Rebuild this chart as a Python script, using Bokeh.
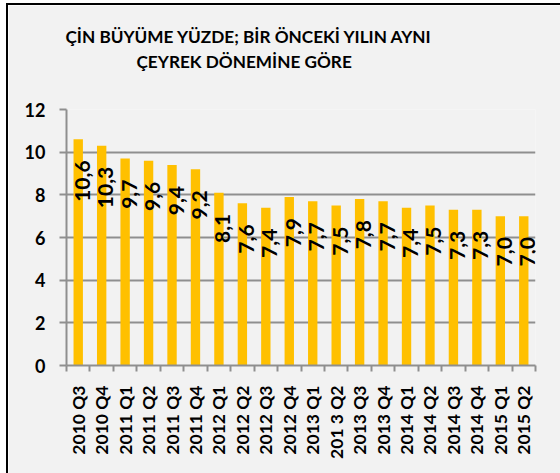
import math
from bokeh.plotting import figure
from bokeh.models import Range1d, FixedTicker, Title, ColumnDataSource
from bokeh.core.properties import value
from bokeh.embed import file_html
from bokeh.resources import INLINE

quarters = ["2010 Q3", "2010 Q4", "2011 Q1", "2011 Q2", "2011 Q3", "2011 Q4",
            "2012 Q1", "2012 Q2", "2012 Q3", "2012 Q4", "2013 Q1", "201 3 Q2",
            "2013 Q3", "2013 Q4", "2014 Q1", "2014 Q2", "2014 Q3", "2014 Q4",
            "2015 Q1", "2015 Q2"]
growth = [10.6, 10.3, 9.7, 9.6, 9.4, 9.2, 8.1, 7.6, 7.4, 7.9,
          7.7, 7.5, 7.8, 7.7, 7.4, 7.5, 7.3, 7.3, 7.0, 7.0]
title_lines = ["ÇİN BÜYÜME  YÜZDE; BİR ÖNCEKİ YILIN AYNI", "ÇEYREK DÖNEMİNE GÖRE"]
y_ticks = [0, 2, 4, 6, 8, 10, 12]

FONT = "Lato"
GRID = "#8f8f8f"
BG = "#f2f2f2"

n = len(quarters)
centres = [i + 0.5 for i in range(n)]
bounds = list(range(n + 1))
labels = [f"{v:.1f}".replace(".", ",") for v in growth]

src = ColumnDataSource(dict(x=centres, top=growth, lab=labels))

p = figure(width=552, height=468, output_backend="svg", toolbar_location=None,
           x_range=Range1d(0, n), y_range=Range1d(0, 12),
           frame_width=469, frame_height=256,
           min_border_left=58, min_border_right=25, min_border_top=104, min_border_bottom=108,
           background_fill_color=BG, border_fill_color=BG, outline_line_color=None)
p.styles = {"margin-top": "3px", "margin-left": "6px",
            "border-top": "2px solid black", "border-left": "2px solid black"}

p.vbar(x="x", top="top", width=0.4, source=src, fill_color="#FFC000", line_color=None)
p.text(x="x", y="top", text="lab", source=src, angle=math.pi / 2,
       text_align="right", text_baseline="middle", y_offset=21, x_offset=4,
       text_font=value(FONT), text_font_style="bold", text_font_size="21px",
       text_color="black")

# x axis
xa = p.xaxis[0]
xa.ticker = FixedTicker(ticks=centres, minor_ticks=bounds)
xa.major_label_overrides = {c: q for c, q in zip(centres, quarters)}
xa.major_label_orientation = math.pi / 2
xa.major_tick_out = 0
xa.major_tick_in = 0
xa.minor_tick_out = 6
xa.minor_tick_in = 0
xa.minor_tick_line_color = GRID
xa.minor_tick_line_width = 2
xa.axis_line_color = GRID
xa.axis_line_width = 2
xa.major_label_standoff = 14
xa.major_label_text_font = FONT
xa.major_label_text_font_style = "bold"
xa.major_label_text_font_size = "17.5px"
xa.major_label_text_color = "black"

# y axis
ya = p.yaxis[0]
ya.ticker = FixedTicker(ticks=y_ticks, minor_ticks=[])
ya.major_tick_out = 7
ya.major_tick_in = 0
ya.major_tick_line_color = GRID
ya.major_tick_line_width = 2
ya.axis_line_color = GRID
ya.axis_line_width = 2
ya.major_label_standoff = 14
ya.major_label_text_font = FONT
ya.major_label_text_font_style = "bold"
ya.major_label_text_font_size = "18px"
ya.major_label_text_color = "black"

p.xgrid.grid_line_color = None
p.ygrid.grid_line_color = GRID
p.ygrid.grid_line_width = 2

# spacer between the plot and the two title lines
p.add_layout(Title(text=" ", standoff=34, text_font_size="1px"), "above")
# second line is closest to the plot, so it is added first
for txt, off in [(title_lines[1], 70), (title_lines[0], -1)]:
    p.add_layout(Title(text=txt, align="left", offset=off, standoff=2,
                       text_font=FONT, text_font_style="bold", text_font_size="17.2px",
                       text_color="black"), "above")

open("out.html", "w").write(file_html(p, INLINE))
